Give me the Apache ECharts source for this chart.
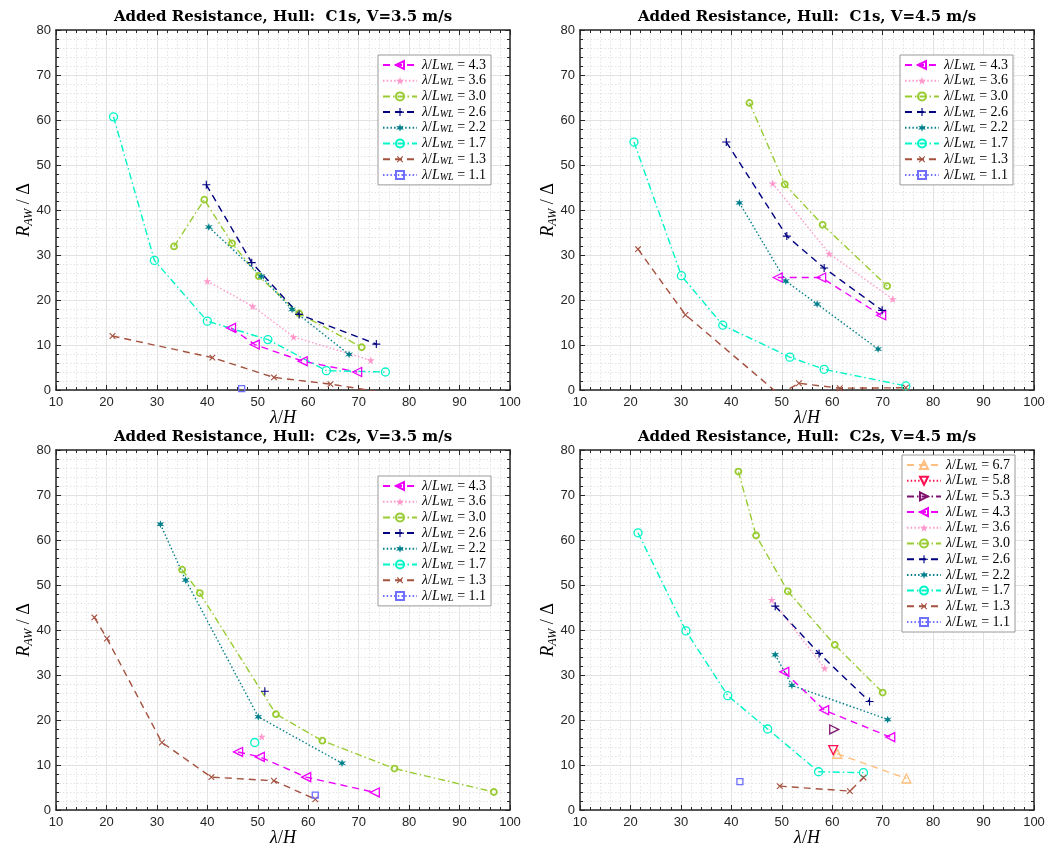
<!DOCTYPE html>
<html>
<head>
<meta charset="utf-8">
<script src="https://cdn.jsdelivr.net/npm/echarts@6/dist/echarts.min.js"></script>
<style>
  html, body { margin: 0; padding: 0; background: #fff; }
  #chart { width: 1062px; height: 849px; }
</style>
</head>
<body>
<div id="chart"></div>
<script>
// ---- legend order (lambda / L_WL) ----
const ratiosStd = ['4.3', '3.6', '3.0', '2.6', '2.2', '1.7', '1.3', '1.1'];
const ratiosWide = ['6.7', '5.8', '5.3', '4.3', '3.6', '3.0', '2.6', '2.2', '1.7', '1.3', '1.1'];

// ---- axis ticks ----
const xTickMin = 10, xTickMax = 100, xTickStep = 10;
const yTickMin = 0, yTickMax = 80, yTickStep = 10;

// ---- Hull C1s, V = 3.5 m/s : [lambda/H, R_AW/Delta] ----
const c1s35_43 = [[44.7, 13.8], [49.4, 10.1], [58.9, 6.4], [69.7, 4.0]];
const c1s35_36 = [[40.0, 24.2], [49.0, 18.6], [57.1, 11.8], [72.4, 6.6]];
const c1s35_30 = [[33.4, 31.9], [39.4, 42.3], [44.9, 32.6], [50.2, 25.3], [58.2, 17.0], [70.6, 9.5]];
const c1s35_26 = [[39.8, 45.6], [48.8, 28.3], [58.2, 16.8], [73.5, 10.2]];
const c1s35_22 = [[40.3, 36.2], [50.7, 25.3], [56.8, 17.9], [68.1, 7.9]];
const c1s35_17 = [[21.4, 60.7], [29.5, 28.8], [40.0, 15.3], [52.0, 11.2], [63.6, 4.3], [75.3, 4.0]];
const c1s35_13 = [[21.2, 12.0], [41.0, 7.2], [53.2, 2.8], [64.4, 1.3], [73.5, -0.3]];
const c1s35_11 = [[46.8, 0.3]];

// ---- Hull C1s, V = 4.5 m/s ----
const c1s45_43 = [[49.2, 25.0], [57.8, 25.0], [69.7, 16.6]];
const c1s45_36 = [[48.2, 45.9], [59.4, 30.3], [72.0, 20.2]];
const c1s45_30 = [[43.6, 63.8], [50.6, 45.7], [58.1, 36.7], [70.9, 23.1]];
const c1s45_26 = [[39.0, 55.1], [51.0, 34.2], [58.4, 27.1], [69.9, 17.7]];
const c1s45_22 = [[41.6, 41.6], [50.8, 24.2], [57.0, 19.1], [69.1, 9.1]];
const c1s45_17 = [[20.7, 55.1], [30.1, 25.4], [38.3, 14.4], [51.6, 7.3], [58.4, 4.6], [74.6, 0.9]];
const c1s45_13 = [[21.5, 31.3], [30.9, 16.7], [49.5, -1.0], [53.4, 1.5], [61.5, 0.4], [74.6, 0.5]];
const c1s45_11 = [];

// ---- Hull C2s, V = 3.5 m/s ----
const c2s35_43 = [[46.1, 12.9], [50.4, 11.8], [59.6, 7.3], [73.2, 3.9]];
const c2s35_36 = [[50.8, 16.3]];
const c2s35_30 = [[35.0, 53.4], [38.5, 48.2], [53.6, 21.3], [62.8, 15.4], [77.1, 9.2], [96.8, 4.0]];
const c2s35_26 = [[51.4, 26.4]];
const c2s35_22 = [[30.7, 63.5], [35.7, 51.1], [50.1, 20.7], [66.7, 10.4]];
const c2s35_17 = [[49.4, 15.0]];
const c2s35_13 = [[17.6, 42.8], [20.1, 38.1], [31.0, 15.0], [40.8, 7.3], [53.2, 6.5], [61.4, 2.4]];
const c2s35_11 = [[61.4, 3.3]];

// ---- Hull C2s, V = 4.5 m/s ----
const c2s45_67 = [[61.0, 12.5], [74.7, 7.0]];
const c2s45_58 = [[60.2, 13.3]];
const c2s45_53 = [[60.4, 17.9]];
const c2s45_43 = [[50.5, 30.7], [58.4, 22.2], [71.5, 16.2]];
const c2s45_36 = [[48.0, 46.7], [58.5, 31.5]];
const c2s45_30 = [[41.4, 75.2], [44.9, 61.0], [51.2, 48.6], [60.5, 36.7], [70.0, 26.1]];
const c2s45_26 = [[48.7, 45.3], [57.4, 34.8], [67.4, 24.1]];
const c2s45_22 = [[48.7, 34.5], [52.0, 27.7], [71.0, 20.1]];
const c2s45_17 = [[21.5, 61.6], [31.0, 39.8], [39.3, 25.4], [47.2, 18.0], [57.3, 8.5], [66.2, 8.3]];
const c2s45_13 = [[49.6, 5.3], [63.5, 4.2], [66.2, 7.2]];
const c2s45_11 = [[41.7, 6.3]];

// ---- line / marker styles per wave-length ratio ----
const DASH = [7, 5];
const DOT = [1.5, 2.2];
const DASHDOT = [7, 3, 1.5, 3];
const PLUS = 'path://M4.3,0H5.7V4.3H10V5.7H5.7V10H4.3V5.7H0V4.3H4.3Z';
const PENTAGRAM = 'path://M50,0L61.23,34.55L97.55,34.55L68.17,55.9L79.39,90.45L50,69.1L20.61,90.45L31.83,55.9L2.45,34.55L38.77,34.55Z';
const HEXAGRAM = 'path://M50,0L60,32.68L93.3,25L70,50L93.3,75L60,67.32L50,100L40,67.32L6.7,75L30,50L6.7,25L40,32.68Z';

const styles = {
  '6.7': { color: '#FFBF80', dash: DASH,    symbol: 'triangle', rotate: 0,   size: 9, hollow: true },
  '5.8': { color: '#FF1050', dash: DOT,     symbol: 'triangle', rotate: 180, size: 9, hollow: true },
  '5.3': { color: '#80106E', dash: DASHDOT, symbol: 'triangle', rotate: -90, size: 9, hollow: true },
  '4.3': { color: '#EE00FF', dash: DASH,    symbol: 'triangle', rotate: 90,  size: 9, hollow: true },
  '3.6': { color: '#FF99CC', dash: DOT,     symbol: PENTAGRAM,  rotate: 0,   size: 8, hollow: false },
  '3.0': { color: '#99CC33', dash: DASHDOT, symbol: 'circle',   rotate: 0,   size: 6, hollow: true, border: 1.8 },
  '2.6': { color: '#000080', dash: DASH,    symbol: PLUS,       rotate: 0,   size: 8, hollow: false },
  '2.2': { color: '#007F8C', dash: DOT,     symbol: HEXAGRAM,   rotate: 0,   size: 8, hollow: false },
  '1.7': { color: '#00F5C8', dash: DASHDOT, symbol: 'circle',   rotate: 0,   size: 8, hollow: true },
  '1.3': { color: '#A5513F', dash: DASH,    symbol: PLUS,       rotate: 45,  size: 8, hollow: false },
  '1.1': { color: '#7070FF', dash: DOT,     symbol: 'rect',     rotate: 0,   size: 6, hollow: true }
};

// ---- panel layout ----
const GRID_W = 454, GRID_H = 360;
const panels = [
  { title: 'Added Resistance, Hull:  C1s, V=3.5 m/s', x: 56,  y: 30,  lx: 378, ly: 55,  ratios: ratiosStd,
    sets: { '4.3': c1s35_43, '3.6': c1s35_36, '3.0': c1s35_30, '2.6': c1s35_26, '2.2': c1s35_22, '1.7': c1s35_17, '1.3': c1s35_13, '1.1': c1s35_11 } },
  { title: 'Added Resistance, Hull:  C1s, V=4.5 m/s', x: 580, y: 30,  lx: 900, ly: 55,  ratios: ratiosStd,
    sets: { '4.3': c1s45_43, '3.6': c1s45_36, '3.0': c1s45_30, '2.6': c1s45_26, '2.2': c1s45_22, '1.7': c1s45_17, '1.3': c1s45_13, '1.1': c1s45_11 } },
  { title: 'Added Resistance, Hull:  C2s, V=3.5 m/s', x: 56,  y: 450, lx: 378, ly: 476, ratios: ratiosStd,
    sets: { '4.3': c2s35_43, '3.6': c2s35_36, '3.0': c2s35_30, '2.6': c2s35_26, '2.2': c2s35_22, '1.7': c2s35_17, '1.3': c2s35_13, '1.1': c2s35_11 } },
  { title: 'Added Resistance, Hull:  C2s, V=4.5 m/s', x: 580, y: 450, lx: 902, ly: 455, ratios: ratiosWide,
    sets: { '6.7': c2s45_67, '5.8': c2s45_58, '5.3': c2s45_53, '4.3': c2s45_43, '3.6': c2s45_36, '3.0': c2s45_30, '2.6': c2s45_26, '2.2': c2s45_22, '1.7': c2s45_17, '1.3': c2s45_13, '1.1': c2s45_11 } }
];

const INK = '#262626';
const SERIF = '"Liberation Serif", "DejaVu Serif", serif';
const SANS = '"Liberation Sans", Arial, sans-serif';

// math-style rich text: italic symbols, upright operators, lowered subscripts
const mathRich = (size, line, subLine) => ({
  i: { fontFamily: SERIF, fontStyle: 'italic', fontSize: size, lineHeight: line, color: '#000' },
  n: { fontFamily: SERIF, fontSize: size, lineHeight: line, color: '#000' },
  s: { fontFamily: SERIF, fontStyle: 'italic', fontSize: Math.round(size * 0.68), lineHeight: subLine, verticalAlign: 'bottom', color: '#000' }
});

const axisLineStyle = { show: true, onZero: false, lineStyle: { color: INK, width: 1.5 } };
const tickStyle = { show: true, inside: true, length: 5, lineStyle: { color: INK, width: 1 } };
const minorTickStyle = { show: true, splitNumber: 5, length: 3, lineStyle: { color: INK, width: 1 } };

const grid = [], xAxis = [], yAxis = [], series = [], legend = [], graphic = [];

panels.forEach((p, g) => {
  grid.push({ left: p.x, top: p.y, width: GRID_W, height: GRID_H, show: false, outerBoundsMode: 'none', containLabel: false });

  // bottom x axis (labelled) and top x axis (box edge with ticks)
  xAxis.push({
    type: 'value', gridIndex: g, position: 'bottom', min: xTickMin, max: xTickMax, interval: xTickStep,
    axisLine: axisLineStyle, axisTick: tickStyle, minorTick: minorTickStyle,
    axisLabel: { color: INK, fontSize: 13, fontFamily: SANS, margin: 6 },
    splitLine: { show: true, lineStyle: { color: '#e2e2e2', width: 1 } },
    minorSplitLine: { show: true, lineStyle: { color: '#e4e4e4', width: 1, type: [1.5, 2] } },
    name: '{i|λ}{n|/}{i|H}', nameLocation: 'middle', nameGap: 17, nameMoveOverlap: false,
    nameTextStyle: { rich: mathRich(18, 22, 9) }
  });
  xAxis.push({
    type: 'value', gridIndex: g, position: 'top', min: xTickMin, max: xTickMax, interval: xTickStep,
    axisLine: axisLineStyle, axisTick: tickStyle, minorTick: minorTickStyle,
    axisLabel: { show: false }, splitLine: { show: false }
  });
  // left y axis (labelled) and right y axis (box edge with ticks)
  yAxis.push({
    type: 'value', gridIndex: g, position: 'left', min: yTickMin, max: yTickMax, interval: yTickStep,
    axisLine: axisLineStyle, axisTick: tickStyle, minorTick: minorTickStyle,
    axisLabel: { color: INK, fontSize: 13, fontFamily: SANS, margin: 5 },
    splitLine: { show: true, lineStyle: { color: '#e2e2e2', width: 1 } },
    minorSplitLine: { show: true, lineStyle: { color: '#e4e4e4', width: 1, type: [1.5, 2] } },
    name: '{i|R}{s|AW}{n| / Δ}', nameLocation: 'middle', nameGap: 21, nameRotate: 90, nameMoveOverlap: false,
    nameTextStyle: { rich: mathRich(18, 22, 9) }
  });
  yAxis.push({
    type: 'value', gridIndex: g, position: 'right', min: yTickMin, max: yTickMax, interval: yTickStep,
    axisLine: axisLineStyle, axisTick: tickStyle, minorTick: minorTickStyle,
    axisLabel: { show: false }, splitLine: { show: false }
  });

  // curves, drawn in legend order
  p.ratios.forEach((r) => {
    const st = styles[r];
    series.push({
      type: 'line', name: r, xAxisIndex: 2 * g, yAxisIndex: 2 * g,
      data: p.sets[r], clip: true, silent: true, animation: false,
      symbol: st.symbol, symbolSize: st.size, symbolRotate: st.rotate, showSymbol: true,
      lineStyle: { color: st.color, width: 1.4, type: st.dash },
      itemStyle: st.hollow
        ? { color: 'rgba(255,255,255,0)', borderColor: st.color, borderWidth: st.border || 1.3 }
        : { color: st.color, borderWidth: 0 },
      emphasis: { disabled: true }
    });
  });

  legend.push({
    orient: 'vertical', left: p.lx, top: p.ly, data: p.ratios, selectedMode: false,
    itemWidth: 34, itemHeight: 10, itemGap: 1.7, padding: [3, 5, 3, 4],
    backgroundColor: '#fff', borderColor: '#9a9a9a', borderWidth: 1, borderRadius: 0,
    formatter: (name) => '{i|λ}{n|/}{i|L}{s|WL}{n| = ' + name + '}',
    textStyle: { rich: mathRich(14, 14, 4) }
  });

  graphic.push({
    type: 'text', x: p.x + GRID_W / 2, y: p.y - 13, silent: true,
    style: { text: p.title, font: 'bold 15px "DejaVu Serif", serif', fill: '#000', textAlign: 'center', textVerticalAlign: 'middle' }
  });
});

const chart = echarts.init(document.getElementById('chart'), null, { renderer: 'canvas' });
chart.setOption({ animation: false, backgroundColor: '#fff', grid, xAxis, yAxis, series, legend, graphic });
</script>
</body>
</html>
